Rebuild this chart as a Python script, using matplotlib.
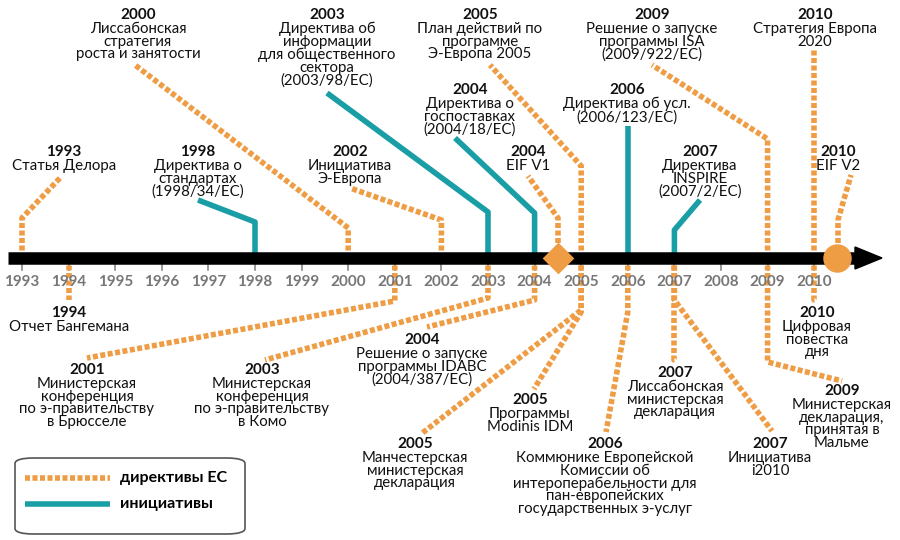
import matplotlib
matplotlib.use("Agg")
import matplotlib.pyplot as plt
from matplotlib.patches import FancyBboxPatch

plt.rcParams['font.family'] = ['Lato', 'DejaVu Sans']

ORANGE = '#EF9D45'
TEAL = '#1A9EA6'

# ---- data ----
tick_years = list(range(1993, 2011))
event_years = [1993, 1998, 2000, 2002, 2003, 2004, 2004, 2005, 2006, 2007, 2009, 2010, 2010,
               1994, 2001, 2003, 2004, 2005, 2005, 2006, 2007, 2007, 2009, 2010]
event_kinds = ['d', 'i', 'd', 'd', 'i', 'i', 'd', 'd', 'i', 'i', 'd', 'd', 'd',
               'd', 'd', 'd', 'd', 'd', 'd', 'd', 'd', 'd', 'd', 'd']
event_texts = [
    "Статья Делора",
    "Директива о\nстандартах\n(1998/34/EC)",
    "Лиссабонская\nстратегия\nроста и занятости",
    "Инициатива\nЭ-Европа",
    "Директива об\nинформации\nдля общественного\nсектора\n(2003/98/EC)",
    "Директива о\nгоспоставках\n(2004/18/EC)",
    "EIF V1",
    "План действий по\nпрограмме\nЭ-Европа 2005",
    "Директива об усл.\n(2006/123/EC)",
    "Директива\nINSPIRE\n(2007/2/EC)",
    "Решение о запуске\nпрограммы ISA\n(2009/922/EC)",
    "Стратегия Европа\n2020",
    "EIF V2",
    "Отчет Бангемана",
    "Министерская\nконференция\nпо э-правительству\nв Брюсселе",
    "Министерская\nконференция\nпо э-правительству\nв Комо",
    "Решение о запуске\nпрограммы IDABC\n(2004/387/EC)",
    "Манчестерская\nминистерская\nдекларация",
    "Программы\nModinis IDM",
    "Коммюнике Европейской\nКомиссии об\nинтероперабельности для\nпан-европейских\nгосударственных э-услуг",
    "Лиссабонская\nминистерская\nдекларация",
    "Инициатива\ni2010",
    "Министерская\nдекларация,\nпринятая в\nМальме",
    "Цифровая\nповестка\nдня",
]
legend_labels = ["директивы ЕС", "инициативы"]

# ---- layout (pixels) : anchor x, knee y, end x, end y, label x, label top y ----
layout = [
    (22, 218, 60, 178, 64, 152),
    (258, 222, 198, 200, 198, 152),
    (350, 228, 135, 65, 138, 15),
    (443, 220, 350, 188, 350, 152),
    (488, 212, 327, 93, 327, 15),
    (537, 213, 455, 138, 470, 90),
    (558, 218, 528, 176, 528, 152),
    (583, 166, 490, 65, 480, 15),
    (628, 126, 628, 126, 627, 90),
    (674, 230, 700, 200, 700, 152),
    (767, 139, 652, 65, 652, 15),
    (815, 50, 815, 50, 815, 15),
    (838, 220, 851, 175, 838, 152),
    (69, 300, 69, 300, 69, 313),
    (396, 301, 87, 358, 87, 370),
    (489, 298, 265, 360, 262, 370),
    (538, 300, 427, 327, 422, 340),
    (584, 310, 421, 434, 415, 444),
    (582, 312, 534, 389, 530, 400),
    (630, 312, 606, 432, 605, 444),
    (677, 360, 677, 360, 675, 373),
    (677, 300, 772, 431, 770, 444),
    (770, 362, 842, 381, 842, 391),
    (817, 300, 817, 300, 817, 313),
]
AXIS_Y = 258
PX0, PXY = 22, 46.6

def X(px):
    return 1993 + (px - PX0) / PXY

fig = plt.figure(figsize=(9, 5.4), dpi=100)
ax = fig.add_axes([0, 0, 1, 1])
ax.set_xlim(X(0), X(900))
ax.set_ylim(540, 0)
ax.axis('off')

def draw_line(xs, ys, kind):
    if kind == 'd':
        ax.plot(xs, ys, color=ORANGE, lw=4, dashes=(0.9, 0.45), solid_capstyle='butt',
                dash_capstyle='butt', zorder=2)
    else:
        ax.plot(xs, ys, color=TEAL, lw=4, solid_capstyle='butt', zorder=2)

# main axis
ax.plot([X(8), X(860)], [AXIS_Y, AXIS_Y], color='black', lw=9, solid_capstyle='butt', zorder=3)
ax.fill([X(855), X(882), X(855)], [AXIS_Y - 11, AXIS_Y, AXIS_Y + 11], color='black', zorder=3)
for y in tick_years:
    ax.plot([y, y], [AXIS_Y + 5, AXIS_Y + 12], color='#888888', lw=1.2, zorder=1)
    ax.text(y, 282, str(y), ha='center', va='center', fontsize=11, color='#777777', fontweight='bold')

for yr, kind, txt, lay in zip(event_years, event_kinds, event_texts, layout):
    ax_px, knee_y, end_x, end_y, lab_x, lab_y = lay
    xa = yr if abs(X(ax_px) - yr) < 0.3 else X(ax_px)
    draw_line([xa, xa, X(end_x)], [AXIS_Y, knee_y, end_y], kind)
    ax.text(X(lab_x), lab_y, str(yr), ha='center', va='center', fontsize=11,
            fontweight='bold', color='#111111', zorder=4)
    ax.text(X(lab_x), lab_y + 7, txt, ha='center', va='top', fontsize=10.8,
            color='#111111', linespacing=0.88, zorder=4)

# markers on axis
ax.scatter([2004.5], [AXIS_Y], marker='D', s=260, color=ORANGE, zorder=5, linewidths=0)
ax.scatter([2010.5], [AXIS_Y], marker='o', s=420, color=ORANGE, zorder=5, linewidths=0)

# legend
box = FancyBboxPatch((X(15), 458), X(245) - X(15), 76, boxstyle='round,pad=0,rounding_size=0.4',
                     transform=ax.transData, facecolor='white', edgecolor='#555555', lw=1.2, zorder=1,
                     mutation_aspect=14)
ax.add_patch(box)
draw_line([X(25), X(110)], [478, 478], 'd')
draw_line([X(25), X(110)], [504, 504], 'i')
ax.text(X(120), 478, legend_labels[0], va='center', ha='left', fontsize=11.5, fontweight='bold')
ax.text(X(120), 504, legend_labels[1], va='center', ha='left', fontsize=11.5, fontweight='bold')

fig.savefig('out.png', dpi=100)
